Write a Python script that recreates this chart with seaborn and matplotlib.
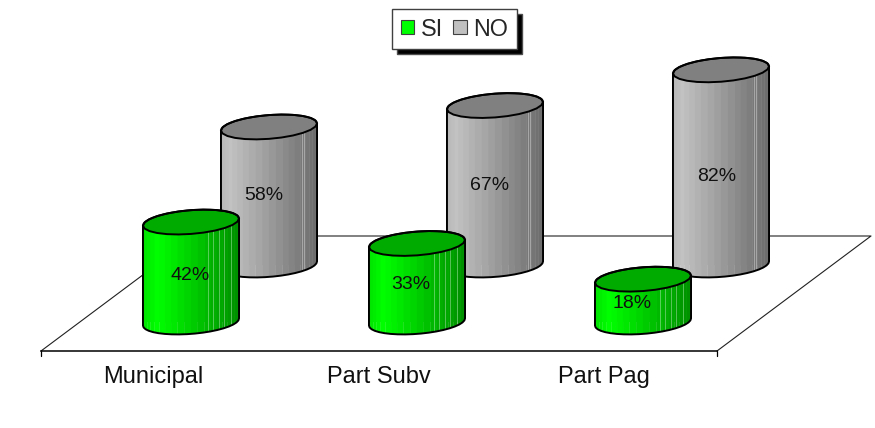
import numpy as np
import matplotlib
matplotlib.use('Agg')
import matplotlib.pyplot as plt
import matplotlib.colors as mcolors
from matplotlib.patches import Patch, Polygon
import seaborn as sns

# Data
categories = ['Municipal', 'Part Subv', 'Part Pag']
si_values = [42, 33, 18]
no_values = [58, 67, 82]

W, H = 875, 428
GREEN = '#00ff00'
GRAY = '#c0c0c0'
BAR_WIDTH = 0.425
RIM_B = 5.0    # half height of the ellipse, in percent units
RIM_TILT = 1.5  # right side of ellipse sits higher

sns.set_theme(style='white')
plt.rcParams['font.family'] = ['Liberation Sans', 'DejaVu Sans']


def px_axes(fig, left, right, bottom, top):
    # axes placed with pixel edges, y measured from the top of the picture
    return fig.add_axes([left / W, 1 - bottom / H, (right - left) / W, (bottom - top) / H])


def rim(cx, cy, a, t):
    return np.column_stack([cx + a * np.cos(t), cy + RIM_TILT * np.cos(t) + RIM_B * np.sin(t)])


def shade(stops, frac):
    return mcolors.to_hex([np.interp(frac, stops[0], np.array(stops[1])[:, i]) for i in range(3)])


def cylinders(ax, stops, top_color, streaks, offsets):
    values = list(ax.containers[0].datavalues)
    for bar, val, off in zip(ax.patches, values, offsets):
        a = bar.get_width() / 2
        cx = bar.get_x() + a
        h = bar.get_height()
        ts = np.linspace(np.pi, 0, 23)

        # seaborn's bar stays as the base colour, clipped to the silhouette
        outline = np.vstack([rim(cx, 0, a, np.linspace(np.pi, 2 * np.pi, 20)),
                             rim(cx, h, a, np.linspace(0, np.pi, 20))])
        bar.set_clip_path(Polygon(outline, transform=ax.transData))
        bar.set_edgecolor('none')

        # side bands
        for t0, t1 in zip(ts[:-1], ts[1:]):
            low = rim(cx, 0, a, -np.array([t0, t1]))
            up = rim(cx, h, a, -np.array([t1, t0]))
            frac = 0.5 + 0.5 * np.cos((t0 + t1) / 2)
            ax.add_patch(Polygon(np.vstack([low, up]), fc=shade(stops, frac), ec=shade(stops, frac),
                                 lw=0.2, zorder=3, clip_on=False))
        for frac in streaks:
            x = cx - a + 2 * a * frac
            t = np.arccos((x - cx) / a)
            p0 = rim(cx, 0, a, np.array([-t]))[0]
            p1 = rim(cx, h, a, np.array([-t]))[0]
            ax.plot([p0[0], p1[0]], [p0[1], p1[1]], color='white', alpha=0.35, lw=0.7, zorder=3.5,
                    clip_on=False)

        # lid and outline
        lid = rim(cx, h, a, np.linspace(0, 2 * np.pi, 25))
        ax.add_patch(Polygon(lid, fc=top_color, ec='black', lw=1.4, zorder=4, clip_on=False))
        ax.add_patch(Polygon(outline, fc='none', ec='black', lw=1.4, zorder=4, joinstyle='round',
                             clip_on=False))

        ax.annotate(f'{val:.0f}%', (cx, h / 2), xytext=off, textcoords='offset pixels',
                    ha='center', va='center', fontsize=14, color='#101010', zorder=6)


fig = plt.figure(figsize=(W / 100, H / 100), dpi=100, facecolor='white')

# floor with the category axis on its front edge
ax_floor = px_axes(fig, 41, 717, 351, 236)
ax_floor.set_xlim(-0.5, 2.5)
ax_floor.set_ylim(0, 1)
ax_floor.patch.set_visible(False)
for side in ['top', 'left', 'right']:
    ax_floor.spines[side].set_visible(False)
ax_floor.spines['bottom'].set_color('black')
ax_floor.spines['bottom'].set_linewidth(1.1)
ax_floor.set_xticks(range(3))
ax_floor.set_xticklabels(categories, fontsize=17)
ax_floor.tick_params(axis='x', length=0, pad=10.5, colors='#101010')
ax_floor.set_yticks([])
ax_floor.plot([-0.5, -0.5], [0, -0.045], color='black', lw=0.9, clip_on=False)
ax_floor.plot([2.5, 2.5], [0, -0.045], color='black', lw=0.9, clip_on=False)
depth = 154 / 676 * 3
ax_floor.plot([-0.5, -0.5 + depth, 2.5 + depth, 2.5], [0, 1, 1, 0], color='#202020', lw=0.8, clip_on=False)

# back row then front row, each on its own depth plane
ax_no = px_axes(fig, 156, 834, 265, 27)
sns.barplot(x=categories, y=no_values, color=GRAY, width=BAR_WIDTH, saturation=1, ax=ax_no)
ax_si = px_axes(fig, 78, 756, 322, 84)
sns.barplot(x=categories, y=si_values, color=GREEN, width=BAR_WIDTH, saturation=1, ax=ax_si)

for ax in [ax_no, ax_si]:
    ax.set_ylim(0, 100)
    ax.set_xlim(-0.5, 2.5)
    ax.axis('off')

gray_stops = ([0, 0.1, 1], [(0.72, 0.72, 0.72), (0.76, 0.76, 0.76), (0.42, 0.42, 0.42)])
green_stops = ([0, 0.15, 1], [(0, 0.88, 0), (0, 1, 0), (0, 0.55, 0)])
cylinders(ax_no, gray_stops, '#808080', [0.84, 0.865], [(-5, 0), (-5, 0), (-4, -9)])
cylinders(ax_si, green_stops, '#00ab00', [0.68, 0.73, 0.79, 0.84, 0.92], [(-1, -3), (-6, -2), (-11, -3)])

handles = [Patch(fc=GREEN, ec='#404040', lw=0.8), Patch(fc=GRAY, ec='#404040', lw=0.8)]
fig.legend(handles, ['SI', 'NO'], loc='center', bbox_to_anchor=(454.5 / W, 1 - 29 / H), ncol=2,
           fontsize=16.8, fancybox=False, framealpha=1, edgecolor='#404040', facecolor='white',
           handlelength=0.56, handleheight=0.56, handletextpad=0.3, columnspacing=0.45,
           borderpad=0.38, borderaxespad=0,
           shadow=dict(ox=3.6, oy=-3.6, facecolor='black', alpha=1))

fig.savefig('out.png', dpi=100)
